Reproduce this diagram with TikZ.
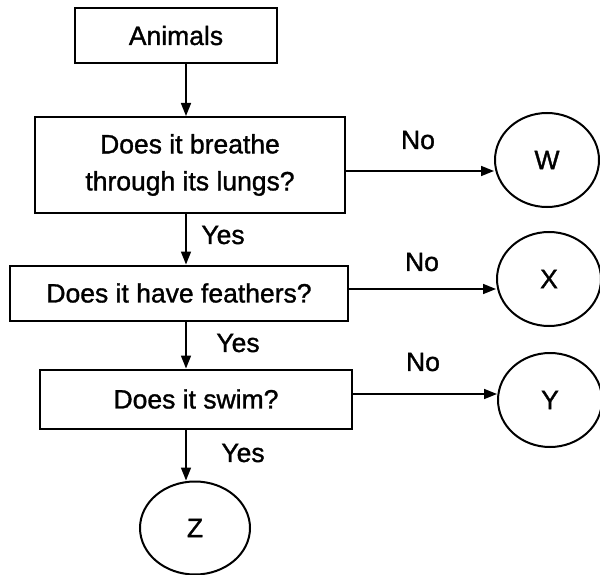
\documentclass[tikz,border=0pt]{standalone}
\usepackage{fontspec}
\setmainfont{Liberation Sans}[FakeBold=1.2]
\usetikzlibrary{shapes.geometric,arrows.meta}
\begin{document}
\begin{tikzpicture}[x=1pt,y=-1pt,
  every node/.style={font=\fontsize{26.5}{37}\selectfont},
  qbox/.style={draw,line width=2pt,rectangle,inner sep=0pt,align=center},
  leaf/.style={draw,line width=2pt,ellipse,inner sep=0pt,minimum width=104pt,minimum height=94pt},
  conn/.style={line width=1.7pt,-{Triangle[length=13pt,width=10pt]}},
  lbl/.style={inner sep=0pt}]
\useasboundingbox (0,0) rectangle (600,575);
\node[qbox,minimum width=202pt,minimum height=55pt] (a) at (176,35.5) {Animals};
\node[qbox,minimum width=310pt,minimum height=96pt] (b) at (190,165) {Does it breathe\\through its lungs?};
\node[qbox,minimum width=338pt,minimum height=55pt] (c) at (179,293) {Does it have feathers?};
\node[qbox,minimum width=312pt,minimum height=59pt] (d) at (196,399) {Does it swim?};
\node[leaf] (w) at (547,160) {W};
\node[leaf] (x) at (549,279) {X};
\node[leaf] (y) at (550,400) {Y};
\node[leaf,minimum width=110pt,minimum height=93pt] (z) at (195,528) {Z};
\coordinate (col) at (186,0);
\coordinate (rw) at (0,171);
\coordinate (rx) at (0,289);
\coordinate (ry) at (0,394);
\draw[conn] (a.south -| col) -- (b.north -| col);
\draw[conn] (b.south -| col) -- (c.north -| col);
\draw[conn] (c.south -| col) -- (d.north -| col);
\draw[conn] (d.south -| col) -- (z.north -| col);
\draw[conn] (b.east |- rw) -- (w.west |- rw);
\draw[conn] (c.east |- rx) -- (x.west |- rx);
\draw[conn] (d.east |- ry) -- (y.west |- ry);
\node[lbl] (n1) at (418,140) {No};
\node[lbl] (n2) at (422,262) {No};
\node[lbl] (n3) at (423,362) {No};
\node[lbl] (y1) at (223,235) {Yes};
\node[lbl] (y2) at (238,343) {Yes};
\node[lbl] (y3) at (243,453) {Yes};
\end{tikzpicture}
\end{document}
